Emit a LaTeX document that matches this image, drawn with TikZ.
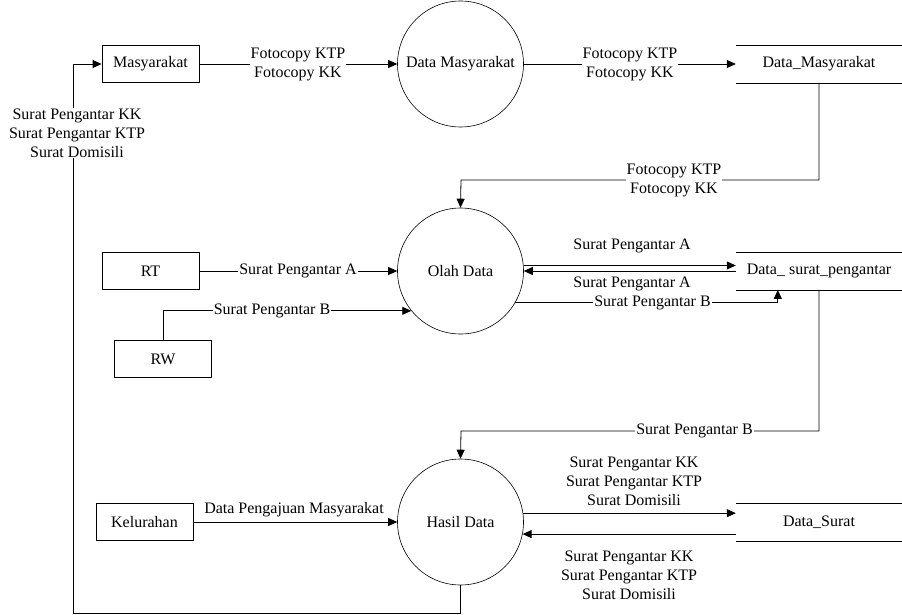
\documentclass[tikz,border=0pt]{standalone}
\usepackage{fontspec}
\setmainfont{Liberation Serif}
\usetikzlibrary{arrows.meta,calc}
\begin{document}
\begin{tikzpicture}[x=1pt,y=-1pt,
 every node/.style={font=\fontsize{16}{19}\selectfont},
 ent/.style={draw, line width=0.8pt, minimum width=97pt, minimum height=37.5pt, inner sep=0pt},
 proc/.style={draw, circle, line width=0.6pt, minimum size=126pt, inner sep=0pt},
 store/.style={minimum width=166pt, minimum height=37.5pt, inner sep=0pt},
 arr/.style={line width=0.8pt, -{Triangle[length=9pt,width=8pt]}},
 ln/.style={line width=0.8pt},
 lbl/.style={fill=white, inner sep=1pt, align=center},
 lbn/.style={inner sep=1pt, align=center}]
\useasboundingbox (0,0) rectangle (902,615);

% entities
\node[ent] (mas) at (150.5,64) {Masyarakat};
\node[ent] (rt) at (150.5,271) {RT};
\node[ent] (rw) at (163,359) {RW};
\node[ent] (kel) at (144.5,522) {Kelurahan};

% processes
\node[proc] (dm) at (460.5,64) {Data Masyarakat};
\node[proc] (od) at (460.5,271) {Olah Data};
\node[proc] (hd) at (460.5,522) {Hasil Data};

% stores
\node[store] (ds1) at (819,64) {Data\_Masyarakat};
\node[store] (ds2) at (819,271) {Data\_ surat\_pengantar};
\node[store] (ds3) at (819,522) {Data\_Surat};
\foreach \s in {ds1,ds2,ds3}{
  \draw[ln] (\s.north west) -- (\s.north east);
  \draw[ln] (\s.south west) -- (\s.south east);
}

% corner points
\coordinate (c1) at (461,180);
\coordinate (c2) at (461,431);
\coordinate (c3) at (73,613);
\coordinate (c4) at ($(ds2.south west)+(42,0)$);

% flows
\draw[arr] (mas) -- (dm);
\draw[arr] (dm) -- (ds1);
\draw[arr] (ds1.south) |- (c1) -- (od.north);
\draw[arr] (rt) -- (od);
\draw[arr] (rw.north) |- (od.219.4);
\draw[arr] (od.5.5) -- (od.5.5 -| ds2.west);
\draw[arr] (ds2.west) -- (od.east);
\draw[arr] (od.-30.2) -| (c4);
\draw[arr] (ds2.south) |- (c2) -- (hd.north);
\draw[arr] (kel) -- (hd);
\draw[arr] (hd.8.9) -- (hd.8.9 -| ds3.west);
\draw[arr] (hd.-11.9 -| ds3.west) -- (hd.-11.9);
\draw[arr] (hd.south) |- (c3) |- (mas.west);

% labels
\node[lbl] (l1) at (298,64) {Fotocopy KTP\\Fotocopy KK};
\node[lbl] (l2) at (630,64) {Fotocopy KTP\\Fotocopy KK};
\node[lbl] (l3) at (674,180) {Fotocopy KTP\\Fotocopy KK};
\node[lbl] (l4) at (298,271) {Surat Pengantar A};
\node[lbl] (l5) at (272,311) {Surat Pengantar B};
\node[lbl] (l8) at (652.5,302.7) {Surat Pengantar B};
\node[lbn] (l6) at (632,246) {Surat Pengantar A};
\node[lbn] (l7) at (632,284) {Surat Pengantar A};
\node[lbl] (l9) at (694.5,431) {Surat Pengantar B};
\node[lbn] (l10) at (294,510) {Data Pengajuan Masyarakat};
\node[lbn] (l11) at (634,481) {Surat Pengantar KK\\Surat Pengantar KTP\\Surat Domisili};
\node[lbn] (l12) at (629,575) {Surat Pengantar KK\\Surat Pengantar KTP\\Surat Domisili};
\node[lbl] (l13) at (77,133) {Surat Pengantar KK\\Surat Pengantar KTP\\Surat Domisili};
\end{tikzpicture}
\end{document}
